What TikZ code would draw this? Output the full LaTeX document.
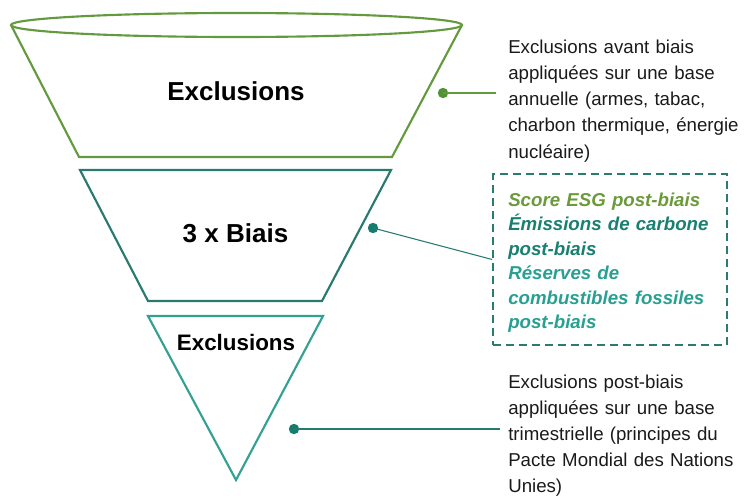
\documentclass[tikz,border=0pt]{standalone}
\usepackage{fontspec}
\setmainfont{Liberation Sans}
\definecolor{cgreen}{RGB}{100,154,62}
\definecolor{cgreendot}{RGB}{82,145,52}
\definecolor{cteal}{RGB}{40,122,110}
\definecolor{ctealdot}{RGB}{22,125,110}
\definecolor{clteal}{RGB}{50,160,146}
\definecolor{cbox}{RGB}{42,125,110}
\definecolor{cscore}{RGB}{106,154,58}
\definecolor{cemi}{RGB}{24,128,112}
\definecolor{cres}{RGB}{40,160,145}
\definecolor{bodytext}{RGB}{26,26,26}
\begin{document}
\begin{tikzpicture}[x=0.75pt,y=-0.75pt,
  funnel/.style={line width=1.6pt, line join=miter},
  dot/.style={circle, fill=#1, inner sep=0pt, minimum size=7.8pt},
  conn/.style={line width=0.8pt},
  side/.style={anchor=base west, inner sep=0pt, text width=180pt, align=left,
    font=\fontsize{14}{19.7}\selectfont, text=bodytext},
  title/.style={anchor=base, inner sep=0pt, font=\bfseries\fontsize{19.5}{23}\selectfont}]
\useasboundingbox (0,0) rectangle (746,496);
% funnel
\draw[funnel, cgreen] (11,25) -- (79,157) -- (392,157) -- (462,25);
\draw[funnel, cgreen] (236.5,25) ellipse [x radius=169.1pt, y radius=9pt];
\draw[funnel, cteal] (80,170) -- (391,170) -- (322,301) -- (148,301) -- cycle;
\draw[funnel, clteal] (148,316) -- (323,316) -- (236,480) -- cycle;
% titles
\node[title] (ti1) at (236,100) {Exclusions};
\node[title] (ti2) at (235.5,242) {3 x Biais};
\node[title, font=\bfseries\fontsize{16.8}{20}\selectfont] (ti3) at (236,350) {Exclusions};
% dashed box
\node[draw=cbox, line width=1.2pt, dash pattern=on 6pt off 3.75pt, minimum width=175.5pt,
  minimum height=128.25pt, inner sep=0pt] (box) at (610,259.5) {};
% connectors
\node[dot=cgreendot] (d1) at (443,93) {};
\coordinate (e1) at (496,93);
\draw[conn, cgreen] (d1.center) -- (e1);
\node[dot=ctealdot] (d2) at (373,228) {};
\draw[conn, cteal] (d2.center) -- (box.west);
\node[dot=ctealdot] (d3) at (294,429) {};
\coordinate (e3) at (500,429);
\draw[conn, cteal] (d3.center) -- (e3);
% side texts
\node[side] (t1) at (508,53) {Exclusions avant biais\\appliquées sur une base\\annuelle (armes, tabac,\\charbon thermique, énergie\\nucléaire)};
\node[side, font=\bfseries\itshape\fontsize{14}{18.4}\selectfont] (t2) at (508,206)
  {\textcolor{cscore}{Score ESG post-biais}\\\textcolor{cemi}{Émissions de carbone}\\\textcolor{cemi}{post-biais}\\\textcolor{cres}{Réserves de}\\\textcolor{cres}{combustibles fossiles}\\\textcolor{cres}{post-biais}};
\node[side, font=\fontsize{14}{19.5}\selectfont] (t3) at (508,388) {Exclusions post-biais\\appliquées sur une base\\trimestrielle (principes du\\Pacte Mondial des Nations\\Unies)};
\end{tikzpicture}
\end{document}
